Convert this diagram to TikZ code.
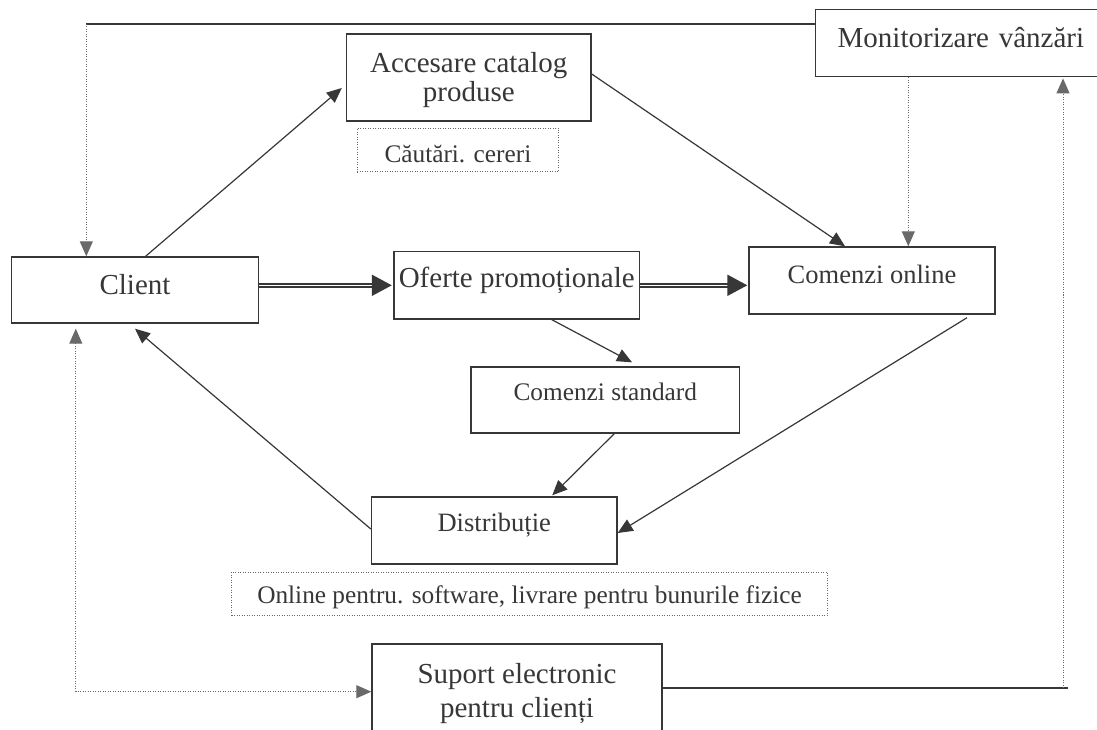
\documentclass[tikz,border=0pt]{standalone}
\usepackage{fontspec}
\setmainfont{Liberation Serif}
\usetikzlibrary{arrows.meta}

\definecolor{inkline}{RGB}{55,55,55}
\definecolor{inktext}{RGB}{55,55,55}
\definecolor{inkdot}{RGB}{105,105,105}

\tikzset{
  box/.style={draw=inkline, line width=1.4pt, text=inktext, inner sep=0pt},
  dotbox/.style={draw=inkdot, line width=1pt, dash pattern=on 1pt off 1.5pt,
    text=inktext, inner sep=0pt},
  big/.style={font=\fontsize{29}{29}\selectfont},
  mid/.style={font=\fontsize{26.5}{30}\selectfont},
  small/.style={font=\fontsize{25.3}{30}\selectfont},
  tx/.style 2 args={text height=#1, text depth=#2},
  tip/.style={-{Triangle[length=15pt,width=13pt]}},
  flow/.style={draw=inkline, line width=1.2pt, tip},
  plain/.style={draw=inkline, line width=1.4pt},
  dotline/.style={draw=inkdot, line width=1pt, dash pattern=on 1pt off 1.5pt},
  dotflow/.style={dotline, tip},
  dotboth/.style={dotline, {Triangle[length=15pt,width=13pt]}-{Triangle[length=15pt,width=13pt]}},
  thick flow/.style={draw=inkline, line width=1.9pt, double=white, double distance=1.6pt,
    -{Triangle[length=20pt,width=21pt]}}
}

\begin{document}
\begin{tikzpicture}[x=1pt, y=-1pt]
  \clip (0,0) rectangle (1097,730);
  \fill[white] (0,0) rectangle (1097,730);

  % process boxes
  \node[box, big, tx={22pt}{12.8pt}, minimum width=247pt, minimum height=66pt]
       (client) at (135,290) {Client};
  \node[box, big, align=center, text depth=1pt, minimum width=244.5pt, minimum height=87pt]
       (acc) at (468.75,77.5) {Accesare catalog\\produse};
  \node[dotbox, small, tx={30pt}{5.3pt}, minimum width=201.7pt, minimum height=43.4pt]
       (caut) at (457.9,150) {Căutări. cereri};
  \node[box, big, tx={22pt}{16.8pt}, minimum width=245.5pt, minimum height=67.3pt]
       (ofer) at (516.75,285.3) {Oferte promoționale};
  \node[box, mid, tx={20pt}{13.5pt}, minimum width=246pt, minimum height=67pt]
       (online) at (872,280.5) {Comenzi online};
  \node[box, big, tx={22pt}{13.8pt}, anchor=west, text width=300pt, align=left,
        inner xsep=22pt, minimum height=67.4pt] (monit) at (815,43) {Monitorizare vânzări};
  \node[box, small, tx={19pt}{18.3pt}, minimum width=268.5pt, minimum height=66pt]
       (std) at (605.25,400) {Comenzi standard};
  \node[box, mid, tx={20pt}{18.5pt}, minimum width=245.5pt, minimum height=67pt]
       (distr) at (494.25,530.5) {Distribuție};
  \node[dotbox, small, tx={25pt}{4.2pt}, minimum width=596pt, minimum height=43pt]
       (livr) at (529.5,593.5) {Online pentru. software, livrare pentru bunurile fizice};
  \node[box, font=\fontsize{29}{34}\selectfont, align=center, minimum width=290pt,
        minimum height=99pt] (sup) at (517,693.5) {Suport electronic\\pentru clienți};

  % corners of the feedback loops
  \coordinate (topL) at (86.3,24);
  \coordinate (botL) at (75.8,691.7);
  \coordinate (botR) at (1063,688);
  \coordinate (mon2onl) at ([xshift=36.3pt]online.north);

  % main flow
  \draw[flow] ([xshift=10.6pt]client.north) -- ([xshift=-4pt,yshift=-10.5pt]acc.west);
  \draw[flow] ([yshift=3.5pt]acc.east) -- ([xshift=-27pt]online.north);
  \draw[thick flow] (client.east |- ofer.west) -- ([xshift=-1.5pt]ofer.west);
  \draw[thick flow] (ofer.east) -- ([xshift=-1pt]online.west |- ofer.east);
  \draw[flow] ([xshift=35pt]ofer.south) -- ([xshift=26.75pt,yshift=4pt]std.north);
  \draw[flow] ([xshift=9pt]std.south) -- ([xshift=58pt,yshift=1pt]distr.north);
  \draw[flow] ([xshift=95pt,yshift=-3pt]online.south) -- ([yshift=-2.5pt]distr.east);
  \draw[flow] ([yshift=1.5pt]distr.west) -- ([yshift=-5pt]client.south);

  % monitoring loop
  \draw[plain] (monit.west |- topL) -- (topL);
  \draw[dotflow] (topL) -- (client.north -| topL);
  \draw[dotflow] (monit.south -| mon2onl) -- (mon2onl);

  % support loop
  \draw[dotboth] ([yshift=-5pt]client.south -| botL) -- (botL) -- (sup.west |- botL);
  \draw[plain] (sup.east |- botR) -- ([xshift=5pt]botR);
  \draw[dotflow, shorten >=1pt] (botR) -- (monit.south -| botR);
\end{tikzpicture}
\end{document}
